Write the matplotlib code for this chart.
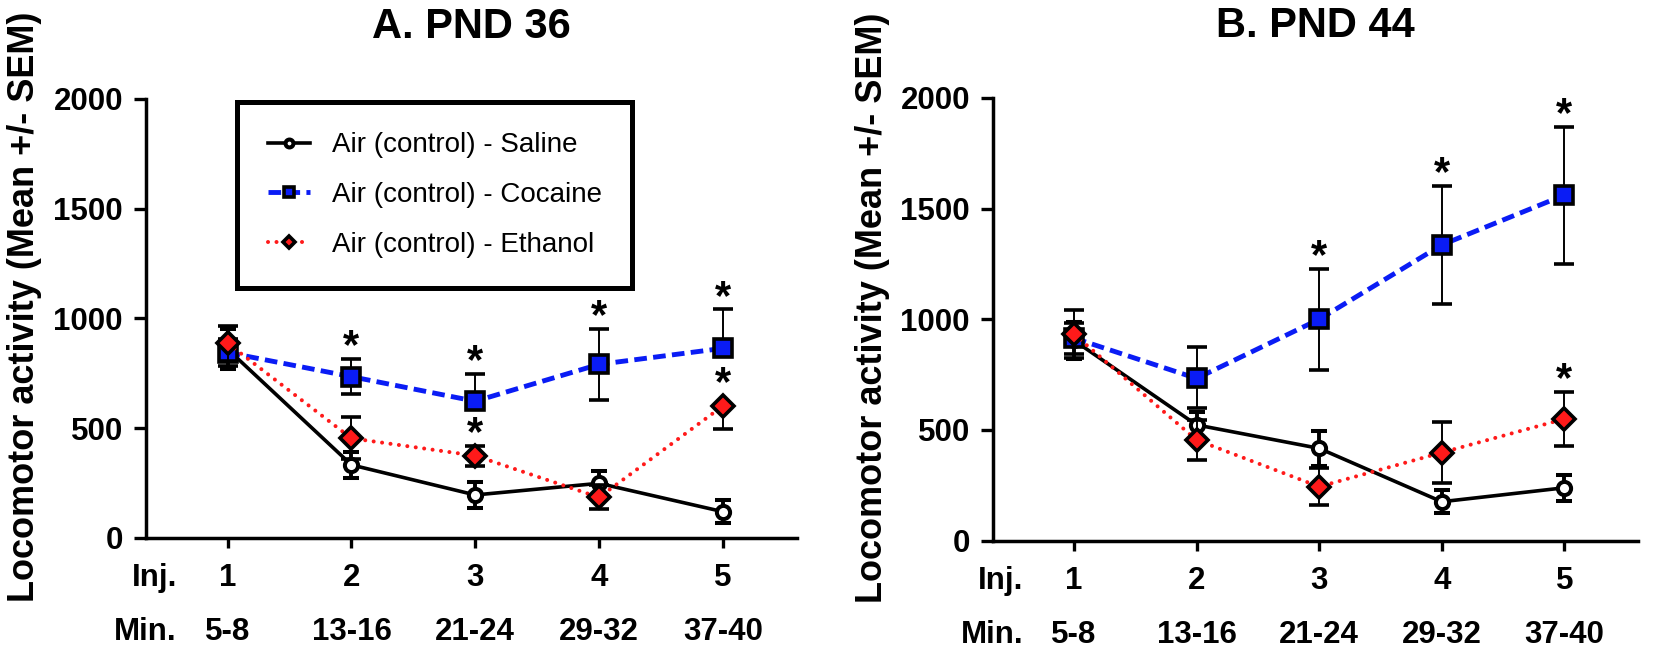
import numpy as np
import matplotlib.pyplot as plt

# -------------------------------
# Data
# -------------------------------
inj = [1, 2, 3, 4, 5]
inj_labels = ["1", "2", "3", "4", "5"]
min_labels = ["5-8", "13-16", "21-24", "29-32", "37-40"]
series_names = ["Air (control) - Saline", "Air (control) - Cocaine", "Air (control) - Ethanol"]

# A. PND 36
saline_36 = [860, 333, 196, 249, 120]
saline_36_err = [90, 60, 60, 57, 53]
cocaine_36 = [845, 735, 623, 791, 864]
cocaine_36_up = [60, 80, 126, 161, 177]
cocaine_36_lo = [60, 80, 0, 161, 0]
ethanol_36 = [887, 454, 375, 185, 601]
ethanol_36_up = [80, 95, 45, 55, 0]
ethanol_36_lo = [80, 95, 45, 55, 106]
star_coc_36 = [False, True, True, True, True]
star_eth_36 = [False, False, True, False, True]

# B. PND 44
saline_44 = [905, 523, 417, 176, 239]
saline_44_err = [85, 60, 80, 53, 58]
cocaine_44 = [915, 733, 1000, 1336, 1561]
cocaine_44_up = [70, 143, 229, 266, 309]
cocaine_44_lo = [70, 135, 229, 266, 309]
ethanol_44 = [933, 455, 244, 398, 550]
ethanol_44_up = [110, 91, 83, 139, 123]
ethanol_44_lo = [110, 91, 83, 139, 123]
star_coc_44 = [False, False, True, True, True]
star_eth_44 = [False, False, False, False, True]

plt.rcParams["font.family"] = ["Liberation Sans", "DejaVu Sans"]
plt.rcParams["font.weight"] = "bold"

TICK_FS = 22.5
STAR_FS = 30


def add_stars(ax, means, up, flags):
    for x, m, u, f in zip(inj, means, up, flags):
        if not f:
            continue
        if u > 0:
            ax.annotate("*", xy=(x, m + u), xytext=(0, 0.5), textcoords="offset points",
                        ha="center", va="baseline", fontsize=STAR_FS, fontweight="bold")
        else:
            ax.annotate("*", xy=(x, m), xytext=(0, 8), textcoords="offset points",
                        ha="center", va="baseline", fontsize=STAR_FS, fontweight="bold")


def draw_panel(ax, title, sal, sal_err, coc, coc_lo, coc_up, eth, eth_lo, eth_up,
               star_coc, star_eth):
    h_sal = ax.errorbar(inj, sal, yerr=sal_err, color="black", lw=2.6,
                        marker="o", ms=9.5, mfc="white", mec="black", mew=2.9,
                        ecolor="black", elinewidth=2.8, capsize=6, capthick=2.8,
                        zorder=3)
    h_coc = ax.errorbar(inj, coc, yerr=[coc_lo, coc_up], color="#0a1cf5", lw=3.5,
                        ls=(0, (2.6, 1.3)), marker="s", ms=12.5, mfc="#0a1cf5",
                        mec="black", mew=2.6, ecolor="black", elinewidth=1.4,
                        capsize=7, capthick=1.6, zorder=4)
    h_eth = ax.errorbar(inj, eth, yerr=[eth_lo, eth_up], color="#ff1a1a", lw=2.9,
                        ls=(0, (0.01, 2.1)), marker="D",
                        ms=11, mfc="#ff1a1a", mec="black", mew=2.6, ecolor="black",
                        elinewidth=1.4, capsize=7, capthick=1.6, zorder=5)
    h_eth[0].set_dash_capstyle("round")

    add_stars(ax, coc, coc_up, star_coc)
    add_stars(ax, eth, eth_up, star_eth)

    ax.set_xlim(0.34, 5.6)
    ax.set_ylim(0, 2000)
    ax.set_yticks([0, 500, 1000, 1500, 2000])
    ax.set_xticks(inj)
    ax.set_xticklabels([f"{a}\n{b}" for a, b in zip(inj_labels, min_labels)],
                       linespacing=2.05)
    ax.tick_params(axis="y", labelsize=TICK_FS, length=8.6, width=2.4, pad=8)
    ax.tick_params(axis="x", labelsize=TICK_FS, length=7, width=2.4, pad=11)
    ax.annotate("Inj.\nMin.", xy=(0.59, 0), xycoords=("data", "axes fraction"),
                xytext=(0, -18), textcoords="offset points", ha="right", va="top",
                fontsize=TICK_FS, fontweight="bold", linespacing=2.05,
                annotation_clip=False)
    for s in ["top", "right"]:
        ax.spines[s].set_visible(False)
    for s in ["left", "bottom"]:
        ax.spines[s].set_linewidth(2.5)

    ax.set_ylabel("Locomotor activity (Mean +/- SEM)", fontsize=26, fontweight="bold")
    ax.yaxis.set_label_coords(-0.16, 0.526)
    ax.set_title(title, fontsize=30, fontweight="bold", pad=44)
    return h_sal, h_coc, h_eth


fig = plt.figure(figsize=(16.55, 6.47), dpi=100)
ax1 = fig.add_axes([0.0882, 0.1685, 0.3934, 0.6785])
ax2 = fig.add_axes([0.6000, 0.1643, 0.3897, 0.6844])

handles = draw_panel(ax1, "A. PND 36", saline_36, saline_36_err, cocaine_36,
                     cocaine_36_lo, cocaine_36_up, ethanol_36, ethanol_36_lo,
                     ethanol_36_up, star_coc_36, star_eth_36)
draw_panel(ax2, "B. PND 44", saline_44, saline_44_err, cocaine_44, cocaine_44_lo,
           cocaine_44_up, ethanol_44, ethanol_44_lo, ethanol_44_up, star_coc_44,
           star_eth_44)

leg = fig.legend([h[0] for h in handles], series_names, loc="upper left",
                 bbox_to_anchor=(0.1435, 0.8425), borderaxespad=0,
                 prop={"size": 20, "weight": "normal"}, frameon=True, fancybox=False,
                 framealpha=1, markerscale=0.6, handlelength=1.5, handletextpad=0.8,
                 labelspacing=0.85, borderpad=1.1)
leg.get_frame().set_edgecolor("black")
leg.get_frame().set_linewidth(3.6)

fig.savefig("out.png", dpi=100)
